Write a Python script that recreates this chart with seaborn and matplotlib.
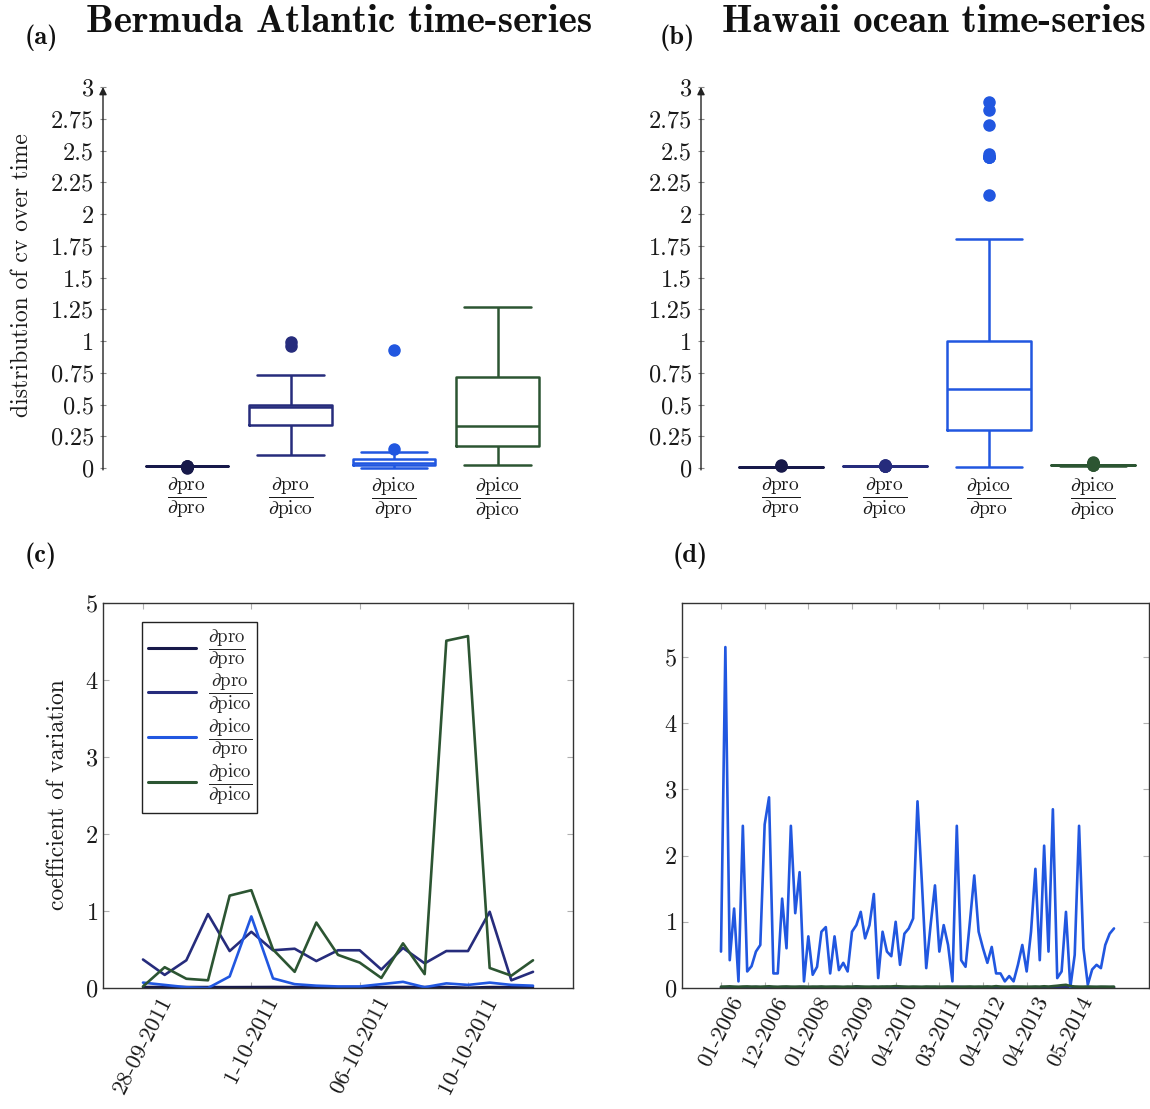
import numpy as np
import pandas as pd
import matplotlib
matplotlib.use("Agg")
import matplotlib.pyplot as plt
import seaborn as sns
from matplotlib.ticker import FuncFormatter

# ---------------------------------------------------------------- labels / colours
ratio_labels = [
    r"$\dfrac{\partial\mathrm{pro}}{\partial\mathrm{pro}}$",
    r"$\dfrac{\partial\mathrm{pro}}{\partial\mathrm{pico}}$",
    r"$\dfrac{\partial\mathrm{pico}}{\partial\mathrm{pro}}$",
    r"$\dfrac{\partial\mathrm{pico}}{\partial\mathrm{pico}}$",
]
ratio_colors = ["#17194a", "#262c7c", "#2157e0", "#2c5532"]

# ---------------------------------------------------------------- Bermuda (BATS), 19 samples
bats_dates = ["28-09-2011", "1-10-2011", "06-10-2011", "10-10-2011"]
bats_date_idx = [0, 5, 10, 15]

bats_pro_pro = [0.012, 0.013, 0.012, 0.012, 0.011, 0.012, 0.013, 0.012, 0.012, 0.011,
                0.012, 0.012, 0.013, 0.012, 0.012, 0.003, 0.012, 0.011, 0.012]
bats_pro_pico = [0.37, 0.17, 0.36, 0.96, 0.48, 0.73, 0.49, 0.51, 0.35, 0.49,
                 0.49, 0.24, 0.52, 0.32, 0.48, 0.48, 0.99, 0.10, 0.21]
bats_pico_pro = [0.07, 0.04, 0.01, 0.00, 0.15, 0.93, 0.125, 0.05, 0.03, 0.02,
                 0.02, 0.05, 0.08, 0.01, 0.06, 0.04, 0.07, 0.04, 0.03]
bats_pico_pico = [0.02, 0.27, 0.12, 0.10, 1.20, 1.27, 0.50, 0.21, 0.85, 0.43,
                  0.33, 0.13, 0.58, 0.18, 4.51, 4.57, 0.26, 0.16, 0.36]

# ---------------------------------------------------------------- Hawaii (HOT), 91 cruises
hot_dates = ["01-2006", "12-2006", "01-2008", "02-2009", "04-2010",
             "03-2011", "04-2012", "04-2013", "05-2014"]
hot_date_idx = [0, 10, 20, 30, 40, 50, 60, 70, 80]

hot_pro_pro = [
    0.008, 0.008, 0.009, 0.008, 0.008, 0.010, 0.008, 0.008, 0.009, 0.008, 0.008, 0.008, 0.009,
    0.008, 0.008, 0.010, 0.008, 0.008, 0.008, 0.009, 0.008, 0.008, 0.008, 0.009, 0.008, 0.008,
    0.008, 0.010, 0.008, 0.008, 0.009, 0.008, 0.008, 0.008, 0.008, 0.009, 0.008, 0.008, 0.018,
    0.008, 0.008, 0.009, 0.008, 0.008, 0.008, 0.010, 0.008, 0.008, 0.009, 0.008, 0.008, 0.008,
    0.008, 0.009, 0.008, 0.008, 0.008, 0.010, 0.008, 0.008, 0.009, 0.008, 0.008, 0.008, 0.008,
    0.009, 0.008, 0.008, 0.008, 0.010, 0.008, 0.008, 0.009, 0.008, 0.008, 0.008, 0.008, 0.009,
    0.008, 0.020, 0.008, 0.008, 0.009, 0.008, 0.008, 0.008, 0.010, 0.008, 0.008, 0.009, 0.008,
]
hot_pro_pico = [
    0.013, 0.012, 0.013, 0.014, 0.012, 0.013, 0.012, 0.013, 0.015, 0.012, 0.013, 0.012, 0.013,
    0.012, 0.014, 0.013, 0.012, 0.013, 0.012, 0.016, 0.013, 0.012, 0.013, 0.012, 0.013, 0.014,
    0.012, 0.013, 0.012, 0.013, 0.012, 0.025, 0.013, 0.012, 0.013, 0.014, 0.012, 0.013, 0.012,
    0.013, 0.012, 0.013, 0.015, 0.012, 0.013, 0.012, 0.013, 0.012, 0.014, 0.013, 0.012, 0.013,
    0.012, 0.013, 0.012, 0.016, 0.013, 0.012, 0.013, 0.012, 0.013, 0.014, 0.012, 0.013, 0.012,
    0.013, 0.012, 0.013, 0.015, 0.012, 0.013, 0.012, 0.013, 0.012, 0.014, 0.013, 0.012, 0.013,
    0.012, 0.013, 0.024, 0.013, 0.012, 0.013, 0.014, 0.012, 0.013, 0.012, 0.013, 0.012, 0.013,
]
hot_pico_pro = [
    0.55, 5.15, 0.42, 1.20, 0.10, 2.45, 0.25, 0.33, 0.55, 0.65, 2.47, 2.88, 0.22,
    0.22, 1.35, 0.60, 2.45, 1.13, 1.75, 0.10, 0.78, 0.20, 0.32, 0.85, 0.92, 0.22,
    0.78, 0.27, 0.38, 0.25, 0.85, 0.95, 1.15, 0.75, 0.95, 1.42, 0.15, 0.85, 0.55,
    0.48, 1.00, 0.35, 0.82, 0.90, 1.05, 2.82, 1.60, 0.30, 0.95, 1.55, 0.55, 0.95,
    0.65, 0.10, 2.45, 0.42, 0.32, 1.00, 1.70, 0.85, 0.60, 0.38, 0.62, 0.22, 0.22,
    0.10, 0.18, 0.10, 0.35, 0.65, 0.25, 0.85, 1.80, 0.42, 2.15, 0.55, 2.70, 0.15,
    0.25, 1.15, 0.01, 0.50, 2.45, 0.60, 0.05, 0.28, 0.35, 0.30, 0.65, 0.82, 0.90,
]
hot_pico_pico = [
    0.020, 0.022, 0.025, 0.020, 0.018, 0.022, 0.024, 0.020, 0.021, 0.019, 0.022, 0.026, 0.020,
    0.018, 0.021, 0.023, 0.020, 0.019, 0.022, 0.020, 0.018, 0.021, 0.020, 0.023, 0.019, 0.020,
    0.022, 0.020, 0.018, 0.021, 0.020, 0.024, 0.022, 0.020, 0.019, 0.021, 0.020, 0.022, 0.020,
    0.023, 0.028, 0.024, 0.020, 0.019, 0.021, 0.020, 0.018, 0.022, 0.020, 0.021, 0.019, 0.020,
    0.022, 0.020, 0.021, 0.018, 0.020, 0.022, 0.019, 0.021, 0.020, 0.023, 0.020, 0.028, 0.021,
    0.019, 0.020, 0.022, 0.020, 0.021, 0.019, 0.020, 0.022, 0.020, 0.026, 0.021, 0.028, 0.034,
    0.042, 0.048, 0.030, 0.022, 0.020, 0.019, 0.021, 0.020, 0.018, 0.021, 0.020, 0.019, 0.020,
]


def long_frame(series):
    rows = []
    for label, values in zip(ratio_labels, series):
        for i, v in enumerate(values):
            rows.append({"idx": i, "cv": v, "ratio": label})
    return pd.DataFrame(rows)


bats = long_frame([bats_pro_pro, bats_pro_pico, bats_pico_pro, bats_pico_pico])
hot = long_frame([hot_pro_pro, hot_pro_pico, hot_pico_pro, hot_pico_pico])

# ---------------------------------------------------------------- style
sns.set_theme(style="white")
plt.rcParams["font.family"] = ["cmr10", "DejaVu Serif"]
plt.rcParams["mathtext.fontset"] = "cm"
plt.rcParams["axes.formatter.use_mathtext"] = True
plt.rcParams["axes.unicode_minus"] = False

W, H = 1150, 1109
fig = plt.figure(figsize=(W / 100, H / 100), dpi=100)


def px_axes(left, top, right, bottom):
    return fig.add_axes([left / W, 1 - bottom / H, (right - left) / W, (bottom - top) / H])


fmt = FuncFormatter(lambda v, p: f"{v:g}")
TICK_FS = 17.5


def box_panel(ax, data, x0_px, left_px, right_px, step_px):
    sns.boxplot(data=data, x="ratio", y="cv", hue="ratio", order=ratio_labels,
                hue_order=ratio_labels, palette=ratio_colors, fill=False, width=0.8,
                linewidth=1.8, whis=1.5, capwidths=0.64, legend=False, ax=ax,
                flierprops=dict(marker="o", markersize=8))
    for ln in ax.lines:
        if ln.get_marker() == "o":
            ln.set_markerfacecolor(ln.get_markeredgecolor())
        ln.set_clip_on(False)
    for p in ax.patches:
        p.set_clip_on(False)
    ax.set_ylim(0, 3)
    left = -(x0_px - left_px) / step_px
    ax.set_xlim(left, left + (right_px - left_px) / step_px)
    ax.set_yticks(np.arange(0, 3.01, 0.25))
    ax.yaxis.set_major_formatter(fmt)
    for s in ["top", "right", "bottom", "left"]:
        ax.spines[s].set_visible(False)
    ax.annotate("", xy=(0, 1.0), xytext=(0, -0.005), xycoords="axes fraction",
                arrowprops=dict(arrowstyle="-|>", lw=1.0, color="#222222",
                                mutation_scale=11, shrinkA=0, shrinkB=0))
    ax.tick_params(axis="y", left=True, direction="inout", length=5, width=0.8,
                   color="#888888", labelsize=TICK_FS, pad=4, labelcolor="#1a1a1a")
    ax.tick_params(axis="x", bottom=False, length=0, labelsize=14, pad=6,
                   labelcolor="#1a1a1a")
    ax.set_xlabel("")
    ax.set_ylabel("")


def line_panel(ax, data, show_legend):
    sns.lineplot(data=data, x="idx", y="cv", hue="ratio", hue_order=ratio_labels,
                 palette=ratio_colors, linewidth=1.9, errorbar=None,
                 legend=show_legend, ax=ax)
    for s in ax.spines.values():
        s.set_color("#333333")
        s.set_linewidth(1.0)
    ax.tick_params(axis="both", direction="in", length=4, width=0.8, color="#b0b0b0",
                   left=True, right=True, bottom=True, top=True,
                   labelsize=TICK_FS, labelcolor="#1a1a1a")
    ax.set_xlabel("")
    ax.set_ylabel("")


# ---------------------------------------------------------------- (a) BATS boxes
ax_a = px_axes(103, 87, 560, 468)
box_panel(ax_a, bats, 187, 103, 560, 103.5)

# ---------------------------------------------------------------- (b) HOT boxes
ax_b = px_axes(701, 87, 1150, 468)
box_panel(ax_b, hot, 781, 701, 1150, 104)

# ---------------------------------------------------------------- (c) BATS lines
ax_c = px_axes(103, 603, 573, 988)
line_panel(ax_c, bats, True)
step_c = (533 - 143) / 18
ax_c.set_xlim(-(143 - 103) / step_c, 18 + (573 - 533) / step_c)
ax_c.set_ylim(0, 5)
ax_c.set_yticks(range(6))
ax_c.set_xticks(bats_date_idx)
ax_c.set_xticklabels(bats_dates, rotation=63, ha="center", fontsize=16.5)
leg = ax_c.legend(loc="upper left", bbox_to_anchor=(0.083, 0.951), borderaxespad=0,
                  frameon=True, fancybox=False, framealpha=1, edgecolor="#222222",
                  fontsize=13.5, handlelength=2.6, handletextpad=0.6,
                  labelspacing=0.0, borderpad=0.3)
leg.get_frame().set_linewidth(1.0)
for h in leg.get_lines():
    h.set_linewidth(2.2)

# ---------------------------------------------------------------- (d) HOT lines
ax_d = px_axes(682, 603, 1149, 988)
line_panel(ax_d, hot, False)
step_d = (1114 - 721) / 90
ax_d.set_xlim(-(721 - 682) / step_d, 90 + (1149 - 1114) / step_d)
ax_d.set_ylim(0, (988 - 603) / 66.2)
ax_d.set_yticks(range(6))
ax_d.set_xticks(hot_date_idx)
ax_d.set_xticklabels(hot_dates, rotation=63, ha="center", fontsize=16.5)

# ---------------------------------------------------------------- titles and panel tags
fig.text(339 / W, 1 - 22 / H, "Bermuda Atlantic time-series", ha="center", va="center",
         family="cmb10", fontsize=28, color="#111111")
fig.text(934 / W, 1 - 22 / H, "Hawaii ocean time-series", ha="center", va="center",
         family="cmb10", fontsize=28, color="#111111")
for tag, x, y in [("(a)", 41, 38), ("(b)", 677, 38), ("(c)", 41, 556), ("(d)", 690, 556)]:
    fig.text(x / W, 1 - y / H, tag, ha="center", va="center", family="cmb10",
             fontsize=19, color="#111111")

fig.text(22 / W, 1 - 275 / H, "distribution of cv over time", rotation=90,
         ha="center", va="center", fontsize=17, color="#1a1a1a")
fig.text(58 / W, 1 - 795 / H, "coefficient of variation", rotation=90,
         ha="center", va="center", fontsize=17, color="#1a1a1a")

fig.savefig("out.png", dpi=100)
